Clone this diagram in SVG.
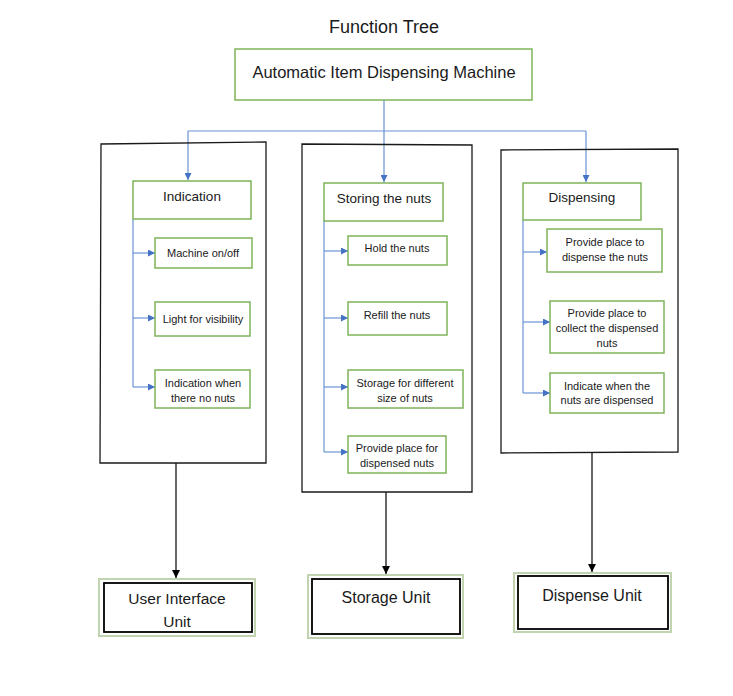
<svg xmlns="http://www.w3.org/2000/svg" width="733" height="696" viewBox="0 0 733 696">
<defs>
<marker id="ab" viewBox="0 0 10 10" refX="10" refY="5" markerWidth="7" markerHeight="7" markerUnits="userSpaceOnUse" orient="auto"><path d="M0,0 L10,5 L0,10 z" fill="#4472c4"/></marker>
<marker id="ak" viewBox="0 0 10 10" refX="10" refY="5" markerWidth="8" markerHeight="8" markerUnits="userSpaceOnUse" orient="auto"><path d="M0,0 L10,5 L0,10 z" fill="#000"/></marker>
</defs>
<style>
text{font-family:"Liberation Sans",Arial,sans-serif;fill:#1a1a1a;text-anchor:middle}
.g{fill:#fff;stroke:#7fb45a;stroke-width:1.5}
.col{fill:none;stroke:#1a1a1a;stroke-width:1.3}
.bl{fill:none;stroke:#6a93d4;stroke-width:1.2}
.bk{fill:none;stroke:#000;stroke-width:1.2}
.uo{fill:#fff;stroke:#c2d3b0;stroke-width:2}
.ui{fill:#fff;stroke:#000;stroke-width:1.8}
.s{font-size:11px}
.m{font-size:13.5px}
.l{font-size:15.5px}
</style>
<rect width="733" height="696" fill="#fff"/>
<text x="384" y="33" style="font-size:18px">Function Tree</text>

<g id="connectors">
<path class="bl" d="M384,100 V131 M188,131 H586"/>
<path class="bl" d="M188,131 V180" marker-end="url(#ab)"/>
<path class="bl" d="M384,131 V182" marker-end="url(#ab)"/>
<path class="bl" d="M586,131 V182" marker-end="url(#ab)"/>
<path class="bl" d="M133,219 V387"/>
<path class="bl" d="M133,253 H155" marker-end="url(#ab)"/>
<path class="bl" d="M133,318 H155" marker-end="url(#ab)"/>
<path class="bl" d="M133,387 H155" marker-end="url(#ab)"/>
<path class="bl" d="M324,221 V452"/>
<path class="bl" d="M324,251 H348" marker-end="url(#ab)"/>
<path class="bl" d="M324,318 H348" marker-end="url(#ab)"/>
<path class="bl" d="M324,387 H348" marker-end="url(#ab)"/>
<path class="bl" d="M324,452 H348" marker-end="url(#ab)"/>
<path class="bl" d="M523,220 V393"/>
<path class="bl" d="M523,252 H547" marker-end="url(#ab)"/>
<path class="bl" d="M523,322 H550" marker-end="url(#ab)"/>
<path class="bl" d="M523,393 H550" marker-end="url(#ab)"/>
<path class="bk" d="M176,463 V578" marker-end="url(#ak)"/>
<path class="bk" d="M386,492 V574" marker-end="url(#ak)"/>
<path class="bk" d="M592,453 V572" marker-end="url(#ak)"/>
</g>

<g id="col1"><path class="col" d="M101,144 L266,142 V463 H100 Z"/></g>
<g id="col2"><path class="col" d="M302,144 L472,145 V492 H302 Z"/></g>
<g id="col3"><path class="col" d="M501,150 L678,149 V452 L501,453 Z"/></g>

<g id="root"><rect class="g" x="235" y="49" width="297" height="51"/><text class="l" x="384" y="78" style="font-size:16.5px">Automatic Item Dispensing Machine</text></g>

<g id="indication"><rect class="g" x="133" y="181" width="118" height="38"/><text class="m" x="192" y="201">Indication</text></g>
<g id="machine"><rect class="g" x="155" y="238" width="97" height="30"/><text class="s" x="203" y="257">Machine on/off</text></g>
<g id="light"><rect class="g" x="155" y="302" width="95" height="34"/><text class="s" x="203" y="323">Light for visibility</text></g>
<g id="indwhen"><rect class="g" x="155" y="370" width="95" height="38"/><text class="s" x="203" y="387">Indication when</text><text class="s" x="203" y="402">there no nuts</text></g>

<g id="storing"><rect class="g" x="324" y="183" width="119" height="38"/><text class="m" x="384" y="203">Storing the nuts</text></g>
<g id="hold"><rect class="g" x="348" y="236" width="99" height="29"/><text class="s" x="397" y="252">Hold the nuts</text></g>
<g id="refill"><rect class="g" x="348" y="302" width="99" height="33"/><text class="s" x="397" y="319">Refill the nuts</text></g>
<g id="storage"><rect class="g" x="348" y="370" width="115" height="38"/><text class="s" x="405" y="387">Storage for different</text><text class="s" x="405" y="402">size of nuts</text></g>
<g id="provide1"><rect class="g" x="348" y="436" width="98" height="37"/><text class="s" x="397" y="452">Provide place for</text><text class="s" x="397" y="467">dispensed nuts</text></g>

<g id="dispensing"><rect class="g" x="523" y="183" width="118" height="37"/><text class="m" x="582" y="202">Dispensing</text></g>
<g id="provide2"><rect class="g" x="547" y="229" width="115" height="43"/><text class="s" x="605" y="246">Provide place to</text><text class="s" x="605" y="261">dispense the nuts</text></g>
<g id="provide3"><rect class="g" x="550" y="301" width="114" height="52"/><text class="s" x="607" y="317">Provide place to</text><text class="s" x="607" y="332">collect the dispensed</text><text class="s" x="607" y="347">nuts</text></g>
<g id="indicate"><rect class="g" x="550" y="373" width="114" height="40"/><text class="s" x="607" y="390">Indicate when the</text><text class="s" x="607" y="404">nuts are dispensed</text></g>

<g id="uiunit"><rect class="uo" x="99" y="579" width="156" height="57"/><rect class="ui" x="104" y="583" width="148" height="49"/><text class="l" x="177" y="604">User Interface</text><text class="l" x="177" y="627">Unit</text></g>
<g id="storageunit"><rect class="uo" x="308" y="575" width="155" height="63"/><rect class="ui" x="312" y="579" width="148" height="55"/><text class="l" x="386" y="603" style="font-size:16px">Storage Unit</text></g>
<g id="dispenseunit"><rect class="uo" x="514" y="573" width="157" height="59"/><rect class="ui" x="518" y="576" width="150" height="53"/><text class="l" x="592" y="601" style="font-size:16px">Dispense Unit</text></g>
</svg>
